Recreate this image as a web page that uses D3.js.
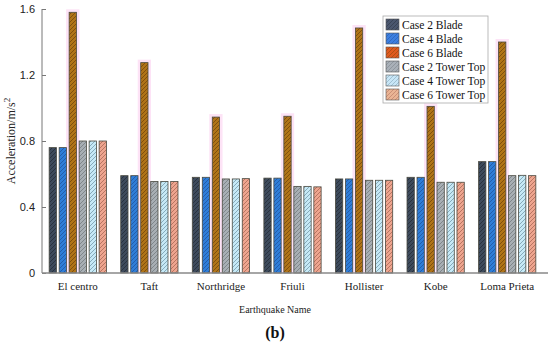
<!DOCTYPE html>
<html>
<head>
<meta charset="utf-8">
<script src="https://cdn.jsdelivr.net/npm/d3@7"></script>
<style>
  body { margin: 0; background: #fff; }
  svg { display: block; }
</style>
</head>
<body>
<svg width="550" height="346"></svg>
<script>
// earthquake records and the six cases
var quakes = ["El centro", "Taft", "Northridge", "Friuli", "Hollister", "Kobe", "Loma Prieta"];
var cases = ["Case 2 Blade", "Case 4 Blade", "Case 6 Blade", "Case 2 Tower Top", "Case 4 Tower Top", "Case 6 Tower Top"];

var case2Blade = [0.76, 0.59, 0.58, 0.575, 0.57, 0.58, 0.675];
var case4Blade = [0.76, 0.59, 0.58, 0.575, 0.57, 0.58, 0.675];
var case6Blade = [1.58, 1.275, 0.945, 0.95, 1.485, 1.01, 1.40];
var case2Tower = [0.80, 0.555, 0.57, 0.525, 0.562, 0.55, 0.59];
var case4Tower = [0.80, 0.555, 0.57, 0.525, 0.562, 0.55, 0.592];
var case6Tower = [0.80, 0.555, 0.572, 0.522, 0.562, 0.55, 0.59];

var yTicks = [0, 0.4, 0.8, 1.2, 1.6];

var seriesVals = [case2Blade, case4Blade, case6Blade, case2Tower, case4Tower, case6Tower];
var fills = ["#3e4b5c", "#2f7ed8", "#b07418", "#a8afb4", "#c6e9f6", "#eea58f"];
var hatch = ["#1f2730", "#1c4f99", "#6b3f08", "#6d7478", "#6a8fa0", "#a0604e"];
var legendFills = ["#4a566e", "#3d7fe0", "#e05a1e", "#a9b0b8", "#c8e6f7", "#eab494"];

var svg = d3.select("svg");
var margin = {left: 42, top: 9, right: 7, bottom: 73};
var W = 550, H = 346;

var x0 = d3.scaleBand().domain(quakes).range([margin.left, W - margin.right]).paddingInner(0.2).paddingOuter(0.1);
var x1 = d3.scaleBand().domain(cases).range([0, x0.bandwidth()]).paddingInner(0.27);
var y = d3.scaleLinear().domain([0, 1.6]).range([H - margin.bottom, margin.top]);

// hatch patterns
var defs = svg.append("defs");
cases.forEach(function (c, i) {
    var p = defs.append("pattern")
        .attr("id", "h" + i)
        .attr("patternUnits", "userSpaceOnUse")
        .attr("width", 4).attr("height", 4);
    p.append("rect").attr("width", 4).attr("height", 4).attr("fill", fills[i]);
    p.append("path").attr("d", "M-1,1 l2,-2 M0,4 l4,-4 M3,5 l2,-2")
        .attr("stroke", hatch[i]).attr("stroke-width", 0.7);
    var q = defs.append("pattern")
        .attr("id", "l" + i)
        .attr("patternUnits", "userSpaceOnUse")
        .attr("width", 4).attr("height", 4);
    q.append("rect").attr("width", 4).attr("height", 4).attr("fill", legendFills[i]);
    q.append("path").attr("d", "M-1,1 l2,-2 M0,4 l4,-4 M3,5 l2,-2")
        .attr("stroke", hatch[i]).attr("stroke-width", 0.6).attr("opacity", 0.7);
});

var data = [];
quakes.forEach(function (q, qi) {
    cases.forEach(function (c, ci) {
        data.push({q: q, c: c, ci: ci, v: seriesVals[ci][qi]});
    });
});

// pink glow behind tall case 6 blade bars
svg.append("g").selectAll("rect")
    .data(data.filter(function (d) { return d.ci === 2; }))
    .enter().append("rect")
    .attr("x", function (d) { return x0(d.q) + x1(d.c) - 3; })
    .attr("y", function (d) { return y(d.v) - 3; })
    .attr("width", x1.bandwidth() + 6)
    .attr("height", function (d) { return y(0) - y(d.v) + 3; })
    .attr("fill", "#fde3f6");

svg.append("g").selectAll("rect")
    .data(data)
    .enter().append("rect")
    .attr("x", function (d) { return x0(d.q) + x1(d.c); })
    .attr("y", function (d) { return y(d.v); })
    .attr("width", x1.bandwidth())
    .attr("height", function (d) { return y(0) - y(d.v); })
    .attr("fill", function (d) { return "url(#h" + d.ci + ")"; })
    .attr("stroke", "#4a4a40")
    .attr("stroke-width", 0.8);

// axes
var yAxis = d3.axisLeft(y).tickValues(yTicks).tickSize(-4).tickPadding(7)
    .tickFormat(function (d) { return d === 0 ? "0" : d3.format(".1f")(d); });
var gy = svg.append("g").attr("transform", "translate(" + margin.left + ",0)").call(yAxis);
gy.select(".domain").attr("stroke", "#777").attr("d", "M0," + y(1.6) + "V" + y(0));
gy.selectAll(".tick line").attr("stroke", "#777");
gy.selectAll("text").attr("font-family", "Liberation Sans, Arial, sans-serif").attr("font-size", 11).attr("fill", "#222");

var xAxis = d3.axisBottom(x0).tickSize(0).tickPadding(9);
var gx = svg.append("g").attr("transform", "translate(0," + y(0) + ")").call(xAxis);
gx.select(".domain").attr("stroke", "#888").attr("stroke-width", 1.5)
    .attr("d", "M" + margin.left + ",0H" + (W - 2));
gx.selectAll("text").attr("font-family", "Liberation Serif, Times New Roman, serif").attr("font-size", 11).attr("fill", "#222");

// axis titles
var yt = svg.append("text")
    .attr("transform", "translate(15," + ((y(0) + y(1.6)) / 2) + ") rotate(-90)")
    .attr("text-anchor", "middle")
    .attr("font-family", "Liberation Serif, Times New Roman, serif")
    .attr("font-size", 12).attr("fill", "#222");
yt.append("tspan").text("Acceleration/m/s");
yt.append("tspan").attr("dy", -5).attr("font-size", 9).text("2");

svg.append("text")
    .attr("x", 275).attr("y", 313)
    .attr("text-anchor", "middle")
    .attr("font-family", "Liberation Serif, Times New Roman, serif")
    .attr("font-size", 10).attr("fill", "#222")
    .text("Earthquake Name");

svg.append("text")
    .attr("x", 275).attr("y", 338)
    .attr("text-anchor", "middle")
    .attr("font-family", "Liberation Serif, Times New Roman, serif")
    .attr("font-size", 16).attr("font-weight", "bold").attr("fill", "#111")
    .text("(b)");

// legend
var lg = svg.append("g").attr("transform", "translate(383,16)");
lg.append("rect").attr("width", 105).attr("height", 87)
    .attr("fill", "#fff").attr("stroke", "#aaa").attr("stroke-width", 0.8);
var items = lg.selectAll("g.item").data(cases).enter().append("g")
    .attr("class", "item")
    .attr("transform", function (d, i) { return "translate(3," + (3 + i * 14) + ")"; });
items.append("rect").attr("width", 13).attr("height", 11)
    .attr("fill", function (d, i) { return "url(#l" + i + ")"; })
    .attr("stroke", "#555").attr("stroke-width", 0.6);
items.append("text").attr("x", 16).attr("y", 9.5)
    .attr("font-family", "Liberation Serif, Times New Roman, serif")
    .attr("font-size", 11.5).attr("fill", "#111")
    .text(function (d) { return d; });
</script>
</body>
</html>
